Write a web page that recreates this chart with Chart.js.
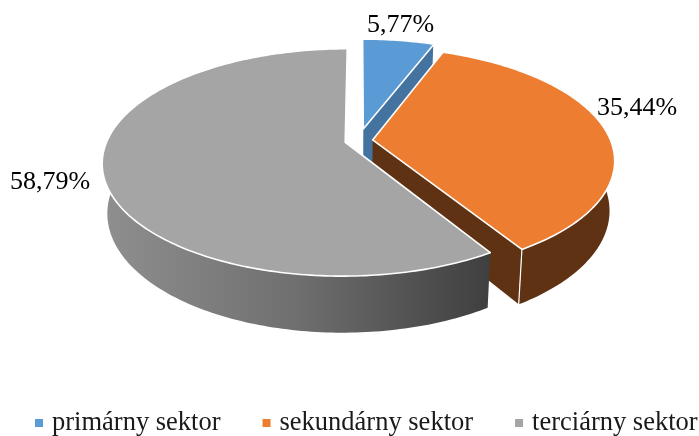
<!DOCTYPE html>
<html>
<head>
<meta charset="utf-8">
<title>Sektory</title>
<script src="https://cdn.jsdelivr.net/npm/chart.js@4"></script>
<style>
  html, body { margin: 0; padding: 0; background: #fff; }
  #wrap { width: 699px; height: 436px; }
</style>
</head>
<body>
<div id="wrap"><canvas id="myChart"></canvas></div>
<script>
const categories = ["primárny sektor", "sekundárny sektor", "terciárny sektor"];
const shares = [5.77, 35.44, 58.79];
const shareLabels = ["5,77%", "35,44%", "58,79%"];
const topColors = ["#5b9bd5", "#ed7d31", "#a5a5a5"];
const wallColors = ["#44739f", "#5f3214", null]; // grey wall gets a gradient

// tilt of the pie, worked out from the reference picture
const centerX = 358.7;
const centerY = 140.5;
const tilt = 0.46;      // squash of the circle
const persp = 0.177;    // near side bigger than far side
const shrink = 0.98;    // bottom plane a little smaller
const drop = 48.6;      // height of the cylinder

function project(u, v, R, low) {
  const den = 1 - (persp * v) / R;
  const s = low ? shrink : 1;
  return {
    x: centerX + (u * s) / den,
    y: centerY + (v * tilt * s + (low ? drop : 0)) / den,
  };
}

function pathOf(ctx, pts) {
  ctx.beginPath();
  pts.forEach(function (p, i) {
    if (i === 0) ctx.moveTo(p.x, p.y);
    else ctx.lineTo(p.x, p.y);
  });
  ctx.closePath();
}

// arc element -> projected points of the slice
function sliceGeometry(arc) {
  const R = arc.outerRadius;
  const mid = (arc.startAngle + arc.endAngle) / 2;
  const ou = arc.options.offset * Math.cos(mid);
  const ov = arc.options.offset * Math.sin(mid);
  const top = [];
  const low = [];
  const wallTop = [];
  const wallLow = [];
  const steps = Math.ceil(((arc.endAngle - arc.startAngle) * 180) / Math.PI);
  for (let i = 0; i <= steps; i++) {
    const a = arc.startAngle + ((arc.endAngle - arc.startAngle) * i) / steps;
    const u = ou + R * Math.cos(a);
    const v = ov + R * Math.sin(a);
    const t = project(u, v, R, false);
    const l = project(u, v, R, true);
    top.push(t);
    low.push(l);
    // back of the wall is hidden under the top face anyway
    if (Math.sin(a) > -0.3) {
      wallTop.push(t);
      wallLow.push(l);
    }
  }
  return {
    top: top,
    low: low,
    wallTop: wallTop,
    wallLow: wallLow,
    apexTop: project(ou, ov, R, false),
    apexLow: project(ou, ov, R, true),
    midTop: project(ou + R * Math.cos(mid), ov + R * Math.sin(mid), R, false),
  };
}

const labelNudge = [
  [2, -15],
  [32, -22],
  [-53, 8],
];

const pie3d = {
  id: "pie3d",
  // the library lays out the arcs, we paint them tilted
  beforeDatasetsDraw(chart) {
    const ctx = chart.ctx;
    const arcs = chart.getDatasetMeta(0).data;

    arcs.forEach(function (arc, i) {
      const g = sliceGeometry(arc);
      const last = g.top.length - 1;
      let wall = wallColors[i];
      if (!wall) {
        const xs = g.top.map(function (p) { return p.x; });
        wall = ctx.createLinearGradient(Math.min.apply(null, xs), 0, g.top[0].x, 0);
        wall.addColorStop(0, "#8f8f8f");
        wall.addColorStop(0.5, "#6f6f6f");
        wall.addColorStop(1, "#3f3f3f");
      }
      ctx.save();
      ctx.fillStyle = wall;
      ctx.strokeStyle = "#fff";

      // only the end cut can face the viewer
      const endVisible = Math.cos(arc.endAngle) > 0.01;
      if (endVisible) {
        pathOf(ctx, [g.apexTop, g.top[last], g.low[last], g.apexLow]);
        ctx.fill();
      }

      // outer wall
      if (g.wallTop.length > 1) {
        pathOf(ctx, g.wallTop.concat(g.wallLow.slice().reverse()));
        ctx.fill();
      }

      // seam where the cut face meets the outer wall
      if (endVisible) {
        ctx.lineWidth = 1.2;
        ctx.beginPath();
        ctx.moveTo(g.top[last].x, g.top[last].y);
        ctx.lineTo(g.low[last].x, g.low[last].y);
        ctx.stroke();
      }

      // top face
      pathOf(ctx, [g.apexTop].concat(g.top));
      ctx.fillStyle = topColors[i];
      ctx.fill();
      ctx.lineWidth = 1.6;
      ctx.lineJoin = "round";
      ctx.stroke();
      ctx.restore();
    });

    // value labels
    ctx.save();
    ctx.fillStyle = "#000";
    ctx.font = '26px "Liberation Serif"';
    ctx.textAlign = "center";
    ctx.textBaseline = "middle";
    arcs.forEach(function (arc, i) {
      const g = sliceGeometry(arc);
      ctx.fillText(shareLabels[i], g.midTop.x + labelNudge[i][0], g.midTop.y + labelNudge[i][1]);
    });
    ctx.restore();

    // legend row: the built in one would wrap at this font size
    ctx.save();
    ctx.font = '26.5px "Liberation Serif"';
    ctx.textAlign = "left";
    ctx.textBaseline = "middle";
    let x = 35;
    chart.data.labels.forEach(function (name, i) {
      ctx.fillStyle = chart.data.datasets[0].backgroundColor[i];
      ctx.fillRect(x, 419, 8, 8);
      ctx.fillStyle = "#1a1a1a";
      ctx.fillText(name, x + 17, 423);
      x += 17 + ctx.measureText(name).width + 42;
    });
    ctx.restore();

    return false;
  },
};

new Chart(document.getElementById("myChart").getContext("2d"), {
  type: "pie",
  data: {
    labels: categories,
    datasets: [
      {
        data: shares,
        backgroundColor: topColors,
        borderWidth: 0,
        offset: [26, 14, 14],
        radius: 238,
      },
    ],
  },
  options: {
    responsive: true,
    maintainAspectRatio: false,
    animation: false,
    plugins: {
      legend: { display: false },
      tooltip: { enabled: false },
    },
  },
  plugins: [pie3d],
});
</script>
</body>
</html>
